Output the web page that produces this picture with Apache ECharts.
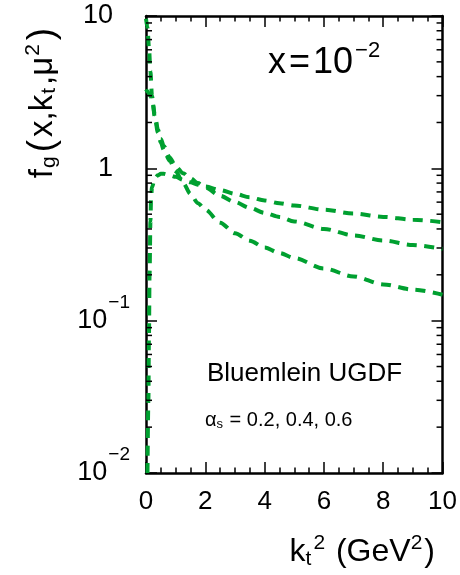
<!DOCTYPE html>
<html>
<head>
<meta charset="utf-8">
<script src="https://cdn.jsdelivr.net/npm/echarts@6/dist/echarts.min.js"></script>
<style>
html,body{margin:0;padding:0;background:#fff;}
#chart{width:460px;height:575px;}
</style>
</head>
<body>
<div id="chart"></div>
<script>
// k_t^2 grid for the alpha_s = 0.2 and 0.4 curves
const kt2A = [0, 0.05, 0.1, 0.15, 0.2, 0.3, 0.4, 0.5, 0.6, 0.8, 1.0, 1.25, 1.5, 1.75, 2.0, 2.5, 3.0, 3.5, 4.0, 4.5, 5.0, 6.0, 7.0, 8.0, 9.0, 10.0];
const fAlpha02 = [9.6, 8.4, 6.2, 4.3, 3.0, 2.15, 1.72, 1.48, 1.32, 1.12, 0.96, 0.80, 0.68, 0.59, 0.535, 0.44, 0.375, 0.335, 0.302, 0.278, 0.258, 0.22, 0.195, 0.173, 0.16, 0.148];
const fAlpha04 = [3.3, 3.2, 3.1, 2.98, 2.85, 2.25, 1.8, 1.56, 1.4, 1.18, 1.03, 0.93, 0.86, 0.80, 0.75, 0.66, 0.60, 0.55, 0.51, 0.48, 0.448, 0.40, 0.363, 0.336, 0.314, 0.296];
// k_t^2 grid for the alpha_s = 0.6 curve
const kt2B = [0.05, 0.08, 0.1, 0.12, 0.15, 0.17, 0.2, 0.3, 0.4, 0.5, 0.6, 0.8, 1.0, 1.25, 1.5, 1.75, 2.0, 2.5, 3.0, 3.5, 4.0, 4.5, 5.0, 6.0, 7.0, 8.0, 9.0, 10.0];
const fAlpha06 = [0.01, 0.03, 0.08, 0.2, 0.45, 0.62, 0.75, 0.86, 0.9, 0.92, 0.92, 0.9, 0.88, 0.84, 0.81, 0.78, 0.76, 0.72, 0.68, 0.645, 0.615, 0.59, 0.57, 0.535, 0.505, 0.48, 0.46, 0.443];

// axis ticks
const xTickLabels = ['0', '2', '4', '6', '8', '10'];
const yTickExponents = [-2, -1, 0, 1];
const yMinorTicks = [0.02,0.03,0.04,0.05,0.06,0.07,0.08,0.09, 0.2,0.3,0.4,0.5,0.6,0.7,0.8,0.9, 2,3,4,5,6,7,8,9];

const FONT = '"Liberation Sans", Arial, Helvetica, sans-serif';
const GREEN = '#00a030';

function zip(xs, ys) { return xs.map((x, i) => [x, ys[i]]); }

const chart = echarts.init(document.getElementById('chart'), null, {renderer: 'canvas'});

const lineStyle = {color: GREEN, width: 4, type: [10, 7.5], cap: 'butt'};
function curve(name, data) {
  return {
    name, type: 'line', data, showSymbol: false, symbol: 'none',
    smooth: 0.3, smoothMonotone: 'x', clip: true,
    lineStyle, z: 3, silent: true
  };
}

const axisLine = {show: true, onZero: false, lineStyle: {color: '#000', width: 2.5}};

const option = {
  animation: false,
  backgroundColor: '#fff',
  grid: {left: 146, right: 16, top: 16, bottom: 101, containLabel: false},
  xAxis: [{
    type: 'value', min: 0, max: 10, interval: 2, position: 'bottom',
    axisLine,
    axisTick: {show: true, inside: true, length: 11, lineStyle: {color: '#000', width: 1.5}},
    minorTick: {show: true, splitNumber: 4, length: 5.5, lineStyle: {color: '#000', width: 1.5}},
    splitLine: {show: false},
    axisLabel: {
      show: true, margin: 16, color: '#000', fontFamily: FONT, fontSize: 26,
      formatter: (v) => xTickLabels[Math.round(v / 2)] ?? ''
    },
    name: '{k|k}{sub|t}{sup|2} {k|(GeV}{sup|2}{k|)}',
    nameLocation: 'middle', nameGap: 60,
    nameTextStyle: {
      color: '#000', fontFamily: FONT, fontSize: 32, padding: [0, 0, 0, 136],
      rich: {
        k: {fontSize: 32, fontFamily: FONT, color: '#000'},
        sub: {fontSize: 21, fontFamily: FONT, color: '#000', padding: [14, 2, 0, 0]},
        sup: {fontSize: 21, fontFamily: FONT, color: '#000', padding: [0, 2, 18, 0]}
      }
    }
  }, {
    type: 'value', min: 0, max: 10, interval: 2, position: 'top',
    axisLine,
    axisTick: {show: true, inside: true, length: 11, lineStyle: {color: '#000', width: 1.5}},
    minorTick: {show: true, splitNumber: 4, length: 5.5, lineStyle: {color: '#000', width: 1.5}},
    splitLine: {show: false},
    axisLabel: {show: false}
  }],
  yAxis: [{
    type: 'log', logBase: 10, min: 0.01, max: 10, position: 'left',
    axisLine,
    axisTick: {show: true, inside: true, length: 11, lineStyle: {color: '#000', width: 1.5}},
    minorTick: {show: false},
    splitLine: {show: false},
    axisLabel: {
      show: true, margin: 16, color: '#000', fontFamily: FONT,
      formatter: (v) => {
        const e = Math.round(Math.log10(v));
        if (!yTickExponents.includes(e)) return '';
        if (e === 1) return '{n|10}';
        if (e === 0) return '{n|1}';
        return '{b|10}{s|\u2212' + (-e) + '}';
      },
      rich: {
        n: {fontSize: 27, fontFamily: FONT, color: '#000', padding: [0, 17, 0, 0]},
        b: {fontSize: 27, fontFamily: FONT, color: '#000'},
        s: {fontSize: 19, fontFamily: FONT, color: '#000', padding: [0, 0, 36, 1]}
      }
    },
    name: '{t|f}{sub|g}{p|(}{t|x,k}{sub|t}{t|,\u03bc}{sup|2}{p|)}',
    nameLocation: 'middle', nameGap: 84,
    nameTextStyle: {
      color: '#000', fontFamily: FONT, padding: [0, 0, 0, 284],
      rich: {
        t: {fontSize: 33, fontFamily: FONT, color: '#000', padding: [0, 1, 0, 1]},
        p: {fontSize: 37, fontFamily: FONT, color: '#000', padding: [0, 2, 0, 2]},
        sub: {fontSize: 21, fontFamily: FONT, color: '#000', padding: [14, 2, 0, 0]},
        sup: {fontSize: 21, fontFamily: FONT, color: '#000', padding: [0, 2, 18, 0]}
      }
    }
  }, {
    type: 'log', logBase: 10, min: 0.01, max: 10, position: 'right',
    axisLine,
    axisTick: {show: true, inside: true, length: 11, lineStyle: {color: '#000', width: 1.5}},
    minorTick: {show: false},
    splitLine: {show: false},
    axisLabel: {show: false}
  }],
  graphic: [
    {
      type: 'text', left: 268, top: 40, silent: true,
      style: {
        text: '{m|x}{e|=}{m|10}{s|\u22122}',
        fill: '#000', font: '36px ' + FONT,
        rich: {
          m: {fontSize: 36, fontFamily: FONT, fill: '#000', color: '#000'},
          e: {fontSize: 36, fontFamily: FONT, fill: '#000', color: '#000', padding: [0, 3, 0, 3]},
          s: {fontSize: 22, fontFamily: FONT, fill: '#000', color: '#000', padding: [0, 0, 24, 2]}
        }
      }
    },
    {
      type: 'text', left: 207, top: 361, silent: true,
      style: {text: 'Bluemlein UGDF', fill: '#000', font: '26px ' + FONT}
    },
    {
      type: 'text', left: 205, top: 410, silent: true,
      style: {
        text: '{a|\u03b1}{s|s}{a| = 0.2, 0.4, 0.6}',
        fill: '#000', font: '20px ' + FONT,
        rich: {
          a: {fontSize: 20, fontFamily: FONT, fill: '#000', color: '#000'},
          s: {fontSize: 13, fontFamily: FONT, fill: '#000', color: '#000', padding: [8, 1, 0, 0]}
        }
      }
    }
  ],
  series: [
    curve('alpha_s = 0.2', zip(kt2A, fAlpha02)),
    curve('alpha_s = 0.4', zip(kt2A, fAlpha04)),
    curve('alpha_s = 0.6', zip(kt2B, fAlpha06)),
    {
      name: 'minor ticks', type: 'custom', silent: true, z: 5,
      xAxisIndex: 0, yAxisIndex: 0, clip: false,
      data: yMinorTicks.map(v => [0, v]),
      encode: {x: 0, y: 1},
      renderItem: (params, api) => {
        const p = api.coord([0, api.value(1)]);
        const cs = params.coordSys;
        const st = {stroke: '#000', lineWidth: 1.5};
        return {
          type: 'group',
          children: [
            {type: 'line', shape: {x1: cs.x, y1: p[1], x2: cs.x + 6, y2: p[1]}, style: st},
            {type: 'line', shape: {x1: cs.x + cs.width, y1: p[1], x2: cs.x + cs.width - 6, y2: p[1]}, style: st}
          ]
        };
      }
    }
  ]
};

chart.setOption(option);
</script>
</body>
</html>
